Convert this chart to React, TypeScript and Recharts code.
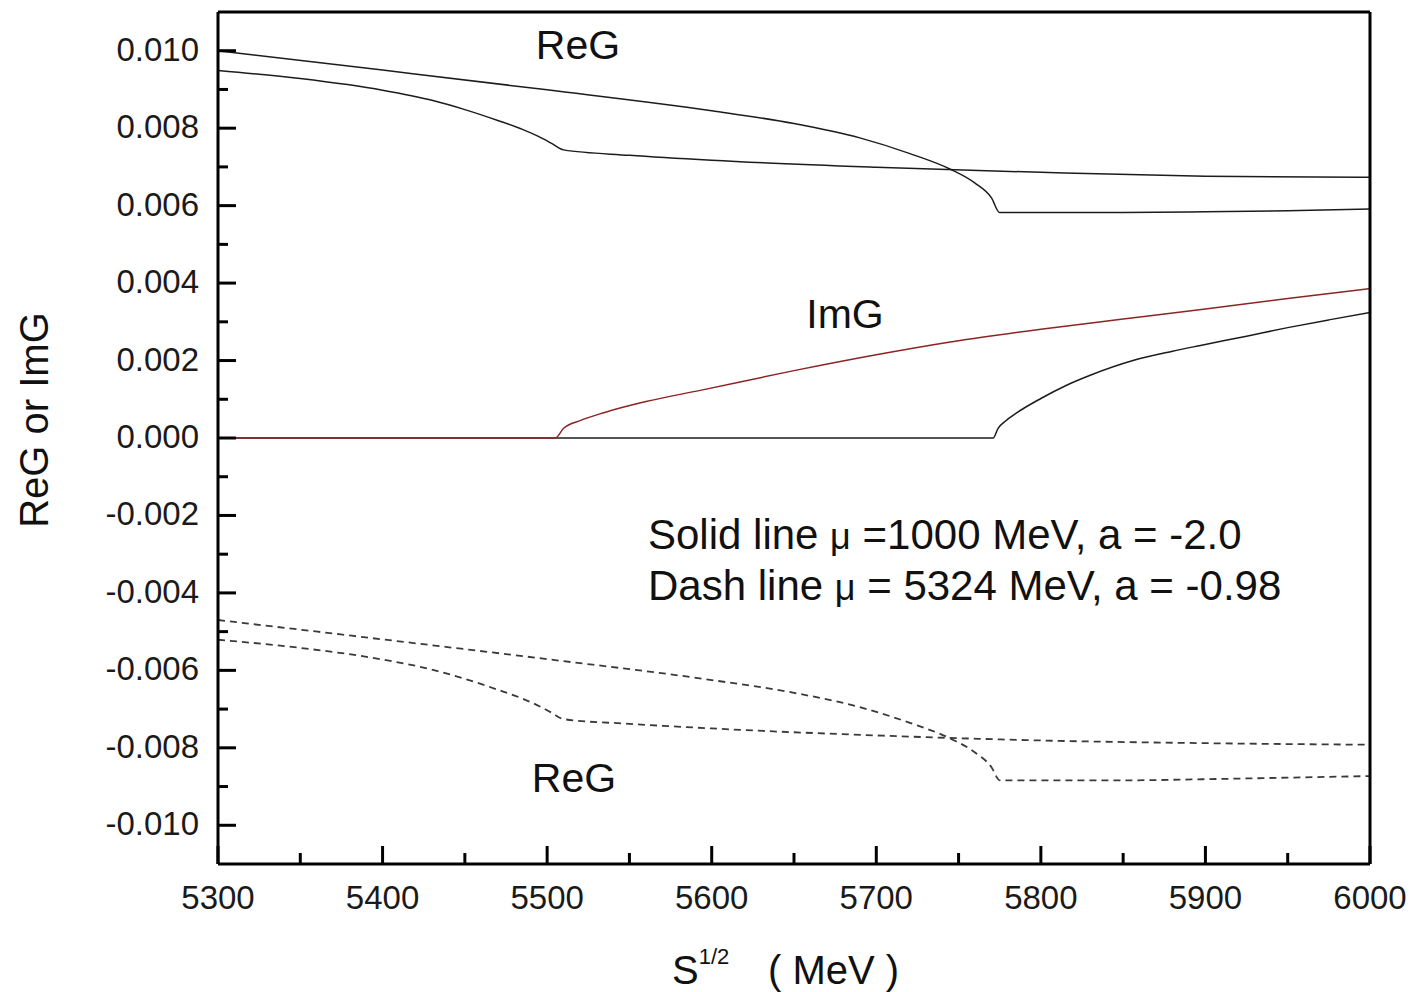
import { Line, LineChart, XAxis, YAxis } from "recharts"

const FONT = '"Liberation Sans", Arial, Helvetica, sans-serif'
const INK = "#1c1c1c"
const RED = "#8b2525"
const DASH = "#3a3a3a"

// solid lines: mu = 1000 MeV, a = -2.0
const reGaS = [5300, 5400, 5500, 5600, 5650, 5690, 5720, 5745, 5760, 5770, 5775, 5800, 5850, 5900, 5950, 6000]
const reGaV = [0.01, 0.0095, 0.00899, 0.00845, 0.00812, 0.00775, 0.00735, 0.00694, 0.00658, 0.0062, 0.00582, 0.00582, 0.00582, 0.00584, 0.00587, 0.00591]

const reGbS = [5300, 5350, 5400, 5430, 5450, 5470, 5485, 5495, 5503, 5510, 5550, 5600, 5700, 5800, 5900, 6000]
const reGbV = [0.00949, 0.00928, 0.00898, 0.00872, 0.00848, 0.0082, 0.00797, 0.00778, 0.0076, 0.00744, 0.0073, 0.00717, 0.00699, 0.00686, 0.00676, 0.00673]

const imGaS = [5300, 5505, 5510, 5520, 5535, 5560, 5593, 5650, 5700, 5745, 5800, 5850, 5900, 5950, 6000]
const imGaV = [0, 0, 0.00025, 0.00045, 0.00066, 0.00094, 0.00123, 0.00174, 0.00215, 0.00248, 0.00281, 0.00307, 0.00333, 0.0036, 0.00386]

const imGbS = [5300, 5771, 5774, 5778, 5785, 5800, 5815, 5830, 5856, 5880, 5897, 5925, 5950, 5975, 6000]
const imGbV = [0, 0, 0.00025, 0.00042, 0.00064, 0.00102, 0.00135, 0.00162, 0.002, 0.00224, 0.00239, 0.00263, 0.00285, 0.00305, 0.00324]

// dashed lines: mu = 5324 MeV, a = -0.98
const dashaS = [5300, 5400, 5500, 5600, 5650, 5690, 5720, 5745, 5760, 5770, 5775, 5800, 5850, 5900, 5950, 6000]
const dashaV = [-0.0047, -0.0052, -0.00571, -0.00625, -0.00658, -0.00695, -0.00735, -0.00776, -0.00812, -0.0085, -0.00884, -0.00884, -0.00884, -0.00881, -0.00877, -0.00873]

const dashbS = [5300, 5350, 5400, 5430, 5450, 5470, 5485, 5495, 5503, 5510, 5550, 5600, 5700, 5800, 5900, 6000]
const dashbV = [-0.00521, -0.00542, -0.00572, -0.00598, -0.00622, -0.0065, -0.00673, -0.00692, -0.0071, -0.00726, -0.00738, -0.0075, -0.00768, -0.00781, -0.00788, -0.00792]

const X_MAJOR = [5300, 5400, 5500, 5600, 5700, 5800, 5900, 6000]
const X_MINOR = [5350, 5450, 5550, 5650, 5750, 5850, 5950]
const Y_MAJOR = [-0.01, -0.008, -0.006, -0.004, -0.002, 0, 0.002, 0.004, 0.006, 0.008, 0.01]
const Y_MINOR = [-0.009, -0.007, -0.005, -0.003, -0.001, 0.001, 0.003, 0.005, 0.007, 0.009]

function pts(xs: number[], ys: number[]) {
  return xs.map((s, i) => ({ s, v: ys[i] }))
}

const isMajor = (list: number[], v: number) => list.some((m) => Math.abs(m - v) < 1e-9)

function XTick({ x, y, payload }: any) {
  const major = isMajor(X_MAJOR, payload.value)
  return (
    <g>
      <line x1={x} x2={x} y1={y} y2={y - (major ? 18 : 11)} stroke="#000" strokeWidth={3} />
      {major && (
        <text x={x} y={y + 45} textAnchor="middle" fontSize={33} fontFamily={FONT} fill="#1a1a1a">
          {payload.value}
        </text>
      )}
    </g>
  )
}

function YTick({ x, y, payload }: any) {
  const major = isMajor(Y_MAJOR, payload.value)
  return (
    <g>
      <line x1={x} x2={x + (major ? 18 : 10)} y1={y} y2={y} stroke="#000" strokeWidth={3} />
      {major && (
        <text x={x - 19} y={y + 10} textAnchor="end" fontSize={33} fontFamily={FONT} fill="#1a1a1a">
          {payload.value.toFixed(3)}
        </text>
      )}
    </g>
  )
}

const lineProps = { dataKey: "v", type: "monotone" as const, dot: false, activeDot: false, isAnimationActive: false }

export default function App() {
  return (
    <div style={{ position: "absolute", left: 0, top: 0, background: "#fff" }}>
      <LineChart width={1414} height={992} margin={{ top: 0, right: 0, bottom: 0, left: 0 }}>
        <XAxis
          dataKey="s"
          type="number"
          domain={[5300, 6000]}
          allowDataOverflow
          ticks={[...X_MAJOR, ...X_MINOR]}
          interval={0}
          height={128}
          tickSize={0}
          tickMargin={0}
          tickLine={false}
          tick={<XTick />}
          axisLine={{ stroke: "#000", strokeWidth: 3 }}
        />
        <XAxis
          xAxisId="top"
          orientation="top"
          dataKey="s"
          type="number"
          domain={[5300, 6000]}
          height={12}
          tick={false}
          tickLine={false}
          axisLine={{ stroke: "#000", strokeWidth: 3 }}
        />
        <YAxis
          type="number"
          domain={[-0.011, 0.011]}
          allowDataOverflow
          ticks={[...Y_MAJOR, ...Y_MINOR]}
          interval={0}
          width={218}
          tickSize={0}
          tickMargin={0}
          tickLine={false}
          tick={<YTick />}
          axisLine={{ stroke: "#000", strokeWidth: 3 }}
        />
        <YAxis
          yAxisId="right"
          orientation="right"
          type="number"
          domain={[-0.011, 0.011]}
          width={44}
          tick={false}
          tickLine={false}
          axisLine={{ stroke: "#000", strokeWidth: 3 }}
        />
        <Line {...lineProps} data={pts(reGaS, reGaV)} stroke={INK} strokeWidth={1.5} />
        <Line {...lineProps} data={pts(reGbS, reGbV)} stroke={INK} strokeWidth={1.5} />
        <Line {...lineProps} data={pts(imGbS, imGbV)} stroke={INK} strokeWidth={1.5} />
        <Line {...lineProps} data={pts(imGaS, imGaV)} stroke={RED} strokeWidth={1.5} />
        <Line {...lineProps} data={pts(dashaS, dashaV)} stroke={DASH} strokeWidth={1.8} strokeDasharray="7 5" />
        <Line {...lineProps} data={pts(dashbS, dashbV)} stroke={DASH} strokeWidth={1.8} strokeDasharray="7 5" />

        <text x={578} y={59} textAnchor="middle" fontSize={41} fontFamily={FONT} fill="#111">ReG</text>
        <text x={845} y={328} textAnchor="middle" fontSize={41} fontFamily={FONT} fill="#111">ImG</text>
        <text x={574} y={792} textAnchor="middle" fontSize={41} fontFamily={FONT} fill="#111">ReG</text>
        <text x={648} y={549} fontSize={42} fontFamily={FONT} fill="#111">
          Solid line <tspan fontSize={36}>μ</tspan> =1000 MeV, a = -2.0
        </text>
        <text x={648} y={600} fontSize={42} fontFamily={FONT} fill="#111">
          Dash line <tspan fontSize={36}>μ</tspan> = 5324 MeV, a = -0.98
        </text>
        <text
          x={48}
          y={420}
          transform="rotate(-90 48 420)"
          textAnchor="middle"
          fontSize={40}
          fontFamily={FONT}
          fill="#111"
        >
          ReG or ImG
        </text>
        <text x={672} y={984} fontSize={40} fontFamily={FONT} fill="#111">
          S
          <tspan fontSize={22} dy={-20}>1/2</tspan>
          <tspan x={768} dy={20}>( MeV )</tspan>
        </text>
      </LineChart>
    </div>
  )
}
